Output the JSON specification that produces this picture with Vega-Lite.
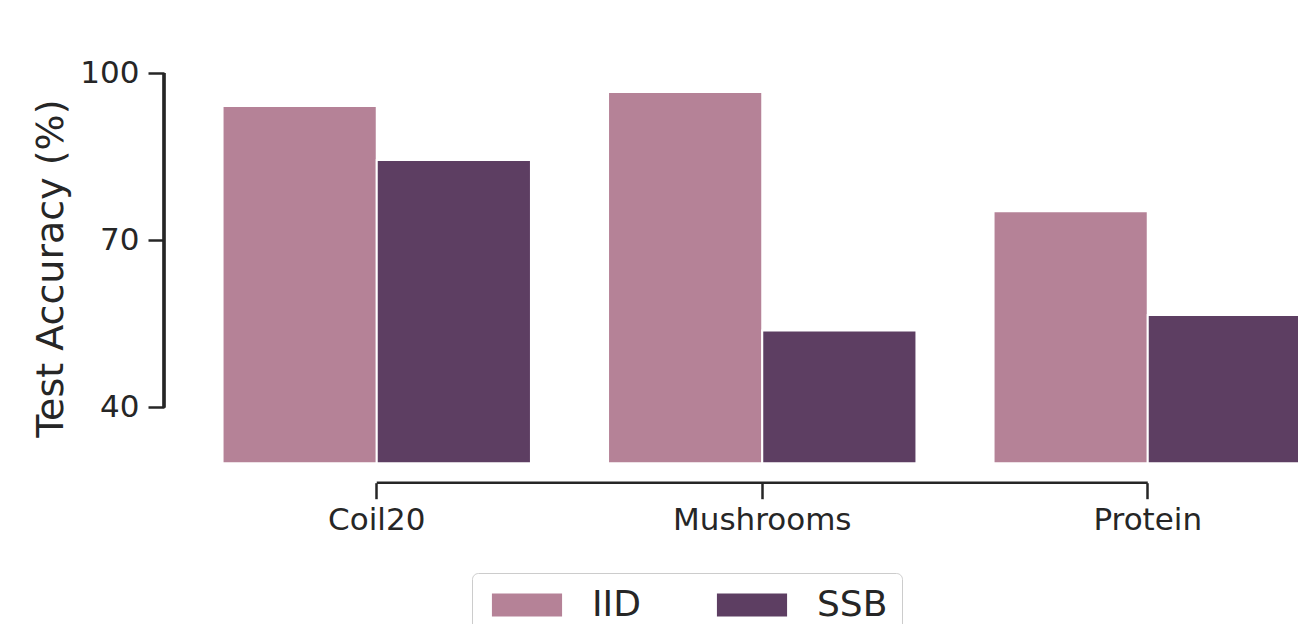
{
  "$schema": "https://vega.github.io/schema/vega-lite/v6.json",
  "width": 1156.5,
  "height": 390.2,
  "autosize": {"type": "none"},
  "padding": {"left": 184, "top": 73, "right": -42.5, "bottom": 160.8},
  "background": "white",
  "config": {
    "view": {"stroke": null},
    "font": "DejaVu Sans",
    "axis": {"grid": false, "labelColor": "#262626", "tickColor": "#262626", "titleColor": "#262626"}
  },
  "data": {
    "values": [
      {"dataset": "Coil20", "method": "IID", "accuracy": 94.1},
      {"dataset": "Coil20", "method": "SSB", "accuracy": 84.4},
      {"dataset": "Mushrooms", "method": "IID", "accuracy": 96.6},
      {"dataset": "Mushrooms", "method": "SSB", "accuracy": 53.8},
      {"dataset": "Protein", "method": "IID", "accuracy": 75.2},
      {"dataset": "Protein", "method": "SSB", "accuracy": 56.6}
    ]
  },
  "layer": [
    {
      "mark": {"type": "bar", "stroke": "white", "strokeWidth": 2},
      "encoding": {
        "x": {
          "field": "dataset",
          "type": "nominal",
          "sort": ["Coil20", "Mushrooms", "Protein"],
          "scale": {"paddingInner": 0.2, "paddingOuter": 0.1},
          "axis": {
            "title": null,
            "domain": false,
            "offset": 19.5,
            "tickSize": 16,
            "tickWidth": 2.5,
            "bandPosition": 0.5,
            "labelFontSize": 31,
            "labelPadding": 7,
            "labelAngle": 0
          }
        },
        "xOffset": {
          "field": "method",
          "type": "nominal",
          "sort": ["IID", "SSB"],
          "scale": {"paddingInner": 0, "paddingOuter": 0}
        },
        "y": {
          "field": "accuracy",
          "type": "quantitative",
          "scale": {"domain": [30, 100], "nice": false, "zero": false},
          "axis": {
            "title": "Test Accuracy (%)",
            "values": [40, 70, 100],
            "domain": false,
            "offset": 20,
            "tickSize": 16,
            "tickWidth": 2.5,
            "labelFontSize": 31,
            "labelPadding": 9,
            "titleFontSize": 38,
            "titleFontWeight": "normal",
            "titlePadding": 9
          }
        },
        "y2": {"datum": 30},
        "color": {
          "field": "method",
          "type": "nominal",
          "scale": {"domain": ["IID", "SSB"], "range": ["#b58297", "#5d3e62"]},
          "legend": {
            "title": null,
            "orient": "none",
            "legendX": 288,
            "legendY": 500,
            "direction": "horizontal",
            "columns": 2,
            "symbolType": "M-3.05,-1H3.05V1H-3.05Z",
            "symbolSize": 529,
            "symbolOffset": 23,
            "symbolStrokeWidth": 0,
            "symbolOpacity": 1,
            "labelFontSize": 36,
            "labelColor": "#262626",
            "labelOffset": 47,
            "columnPadding": 70,
            "padding": 14,
            "strokeColor": "#cccccc",
            "cornerRadius": 6,
            "fillColor": "white"
          }
        }
      }
    },
    {
      "transform": [{"filter": "datum.method === 'IID'"}],
      "mark": {"type": "line", "color": "#262626", "strokeWidth": 2.5, "yOffset": 19.5},
      "encoding": {
        "x": {"field": "dataset", "type": "nominal", "sort": ["Coil20", "Mushrooms", "Protein"]},
        "y": {"datum": 30}
      }
    },
    {
      "mark": {"type": "rule", "color": "#262626", "strokeWidth": 2.5, "xOffset": -20},
      "encoding": {
        "x": {"value": 0},
        "y": {"datum": 40},
        "y2": {"datum": 100}
      }
    }
  ]
}
